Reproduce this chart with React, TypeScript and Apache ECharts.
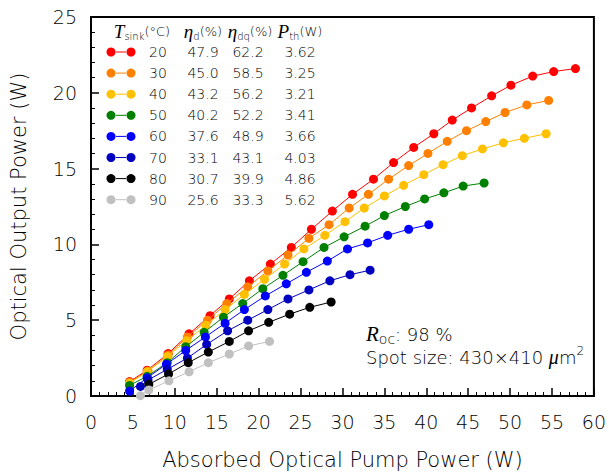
import React, { useEffect, useRef } from "react";
import * as echarts from "echarts";

const temps = ["20", "30", "40", "50", "60", "70", "80", "90"];
const etaD = ["47.9", "45.0", "43.2", "40.2", "37.6", "33.1", "30.7", "25.6"];
const etaDq = ["62.2", "58.5", "56.2", "52.2", "48.9", "43.1", "39.9", "33.3"];
const pth = ["3.62", "3.25", "3.21", "3.41", "3.66", "4.03", "4.86", "5.62"];
const colors = ["#ff0000", "#ff8000", "#ffc000", "#008000", "#0000ff", "#0000c0", "#000000", "#c0c0c0"];

const x20 = [4.6, 6.7, 9.2, 11.7, 14.2, 16.5, 18.9, 21.4, 23.9, 26.3, 28.8, 31.2, 33.7, 36.1, 38.5, 40.9, 43.1, 45.4, 47.8, 50.1, 52.7, 55.2, 57.8];
const y20 = [0.95, 1.7, 2.8, 4.1, 5.3, 6.4, 7.6, 8.7, 9.8, 11.0, 12.2, 13.3, 14.3, 15.4, 16.4, 17.3, 18.2, 19.0, 19.8, 20.5, 21.1, 21.4, 21.6];
const x30 = [4.6, 6.8, 9.2, 11.5, 13.9, 16.2, 18.7, 21.1, 23.5, 26.0, 28.4, 30.8, 33.1, 35.5, 37.9, 40.2, 42.5, 44.8, 47.1, 49.4, 52.0, 54.6];
const y30 = [0.9, 1.65, 2.7, 3.9, 5.0, 6.1, 7.2, 8.25, 9.3, 10.4, 11.3, 12.4, 13.3, 14.3, 15.2, 16.0, 16.8, 17.5, 18.1, 18.7, 19.2, 19.5];
const x40 = [4.6, 6.7, 9.1, 11.4, 13.7, 16.0, 18.3, 20.7, 23.1, 25.4, 27.9, 30.3, 32.6, 35.0, 37.3, 39.7, 42.0, 44.3, 46.7, 49.2, 51.7, 54.3];
const y40 = [0.85, 1.6, 2.6, 3.65, 4.66, 5.7, 6.7, 7.7, 8.7, 9.7, 10.6, 11.5, 12.4, 13.2, 13.9, 14.6, 15.26, 15.85, 16.3, 16.7, 17.0, 17.3];
const x50 = [4.6, 6.7, 9.1, 11.3, 13.5, 15.8, 18.1, 20.5, 22.9, 25.3, 27.8, 30.2, 32.7, 35.0, 37.5, 39.8, 42.1, 44.4, 46.9];
const y50 = [0.7, 1.3, 2.2, 3.25, 4.2, 5.2, 6.1, 7.08, 7.96, 8.86, 9.8, 10.5, 11.2, 11.9, 12.5, 13.0, 13.4, 13.85, 14.05];
const x60 = [4.6, 6.7, 9.0, 11.3, 13.65, 16.0, 18.3, 20.8, 23.3, 25.7, 28.2, 30.6, 33.0, 35.4, 37.9, 40.3];
const y60 = [0.33, 1.2, 2.1, 3.0, 3.9, 4.8, 5.7, 6.6, 7.4, 8.16, 8.9, 9.7, 10.1, 10.6, 11.0, 11.3];
const x70 = [5.9, 6.8, 9.1, 11.5, 13.8, 16.3, 18.7, 21.1, 23.5, 26.0, 28.5, 30.9, 33.3];
const y70 = [0.63, 1.05, 1.76, 2.5, 3.4, 4.3, 5.0, 5.7, 6.4, 7.0, 7.6, 8.0, 8.3];
const x80 = [6.9, 9.25, 11.6, 14.0, 16.5, 18.8, 21.2, 23.7, 26.1, 28.65];
const y80 = [0.77, 1.45, 2.2, 2.9, 3.6, 4.3, 4.86, 5.4, 5.85, 6.2];
const x90 = [5.9, 6.9, 9.3, 11.7, 14.0, 16.5, 18.8, 21.3];
const y90 = [0.02, 0.4, 1.0, 1.6, 2.2, 2.77, 3.3, 3.6];

const xs = [x20, x30, x40, x50, x60, x70, x80, x90];
const ys = [y20, y30, y40, y50, y60, y70, y80, y90];

const FONT = "DejaVu Sans";
const W = 200;
const SERIF = "Liberation Serif";

export default function App() {
  const ref = useRef<HTMLDivElement>(null);
  useEffect(() => {
    if (!ref.current) return;
    const chart = echarts.init(ref.current, null, { renderer: "svg" });

    const series = xs.map((xv, i) => ({
      type: "line",
      name: temps[i],
      data: xv.map((x, k) => [x, ys[i][k]]),
      symbol: "circle",
      symbolSize: 9,
      lineStyle: { color: colors[i], width: 1 },
      itemStyle: { color: colors[i] },
      z: 2 + i,
    }));

    const rich = (fs: number, lh: number, subFs: number, itFs: number) => ({
      n: { fontFamily: FONT, fontWeight: W, fontSize: fs, lineHeight: lh, fill: "#000", color: "#000" },
      it: { fontFamily: SERIF, fontStyle: "italic", fontSize: itFs, lineHeight: lh, fill: "#000", color: "#000" },
      sub: { fontFamily: FONT, fontWeight: W, fontSize: subFs, verticalAlign: "bottom", lineHeight: subFs, fill: "#000", color: "#000" },
      sup: { fontFamily: FONT, fontWeight: W, fontSize: Math.round(fs * 0.65), verticalAlign: "top", lineHeight: Math.round(fs * 0.65), fill: "#000", color: "#000" },
      mu: { fontFamily: SERIF, fontStyle: "italic", fontSize: fs + 2, lineHeight: lh, fill: "#000", color: "#000" },
    });

    const g: any[] = [];
    const rowY0 = 52;
    const rowDy = 21.1;
    const txt = (x: number, y: number, text: string, extra: any = {}) => ({
      type: "text",
      x,
      y,
      style: {
        text,
        fontFamily: FONT,
        fontWeight: W,
        fontSize: 14,
        fill: "#000",
        align: "center",
        verticalAlign: "middle",
        ...extra,
      },
    });
    const hr = rich(13, 21, 10, 19);
    // header
    g.push(txt(142, 31, "{it|T}{sub|sink}{n|(°C)}", { rich: hr }));
    g.push(txt(203, 31, "{it|η}{sub|d}{n|(%)}", { rich: hr }));
    g.push(txt(250, 31, "{it|η}{sub|dq}{n|(%)}", { rich: hr }));
    g.push(txt(300, 31, "{it|P}{sub|th}{n|(W)}", { rich: hr }));

    temps.forEach((t, i) => {
      const y = rowY0 + i * rowDy;
      g.push({ type: "line", shape: { x1: 116, y1: y, x2: 126, y2: y }, style: { stroke: colors[i], lineWidth: 1 } });
      g.push({ type: "circle", shape: { cx: 111, cy: y, r: 4.5 }, style: { fill: colors[i] } });
      g.push({ type: "circle", shape: { cx: 131, cy: y, r: 4.5 }, style: { fill: colors[i] } });
      g.push(txt(158, y, t));
      g.push(txt(203, y, etaD[i]));
      g.push(txt(248, y, etaDq[i]));
      g.push(txt(300, y, pth[i]));
    });

    // annotation
    g.push(txt(366, 334, "{it|R}{sub|oc}{n|: 98 %}", { align: "left", rich: rich(18, 24, 14, 21) }));
    g.push(txt(366, 357, "{n|Spot size: 430×410 }{mu|μ}{n|m}{sup|2}", { align: "left", rich: rich(18, 24, 14, 20) }));

    chart.setOption({
      animation: false,
      grid: { left: 91, right: 14, top: 17, bottom: 80, show: true, borderColor: "#000", borderWidth: 2 },
      xAxis: {
        type: "value",
        min: 0,
        max: 60,
        interval: 5,
        name: "Absorbed Optical Pump Power (W)",
        nameLocation: "middle",
        nameGap: 53,
        nameTextStyle: { fontFamily: FONT, fontWeight: W, fontSize: 21, color: "#000" },
        axisLine: { lineStyle: { color: "#000", width: 2 } },
        axisTick: { inside: true, length: 8, lineStyle: { color: "#000", width: 1.5 } },
        minorTick: { show: true, splitNumber: 5, length: 4, lineStyle: { color: "#000", width: 1 } },
        axisLabel: { fontFamily: FONT, fontWeight: W, fontSize: 19, color: "#000", margin: 16 },
        splitLine: { show: false },
        minorSplitLine: { show: false },
      },
      yAxis: {
        type: "value",
        min: 0,
        max: 25,
        interval: 5,
        name: "Optical Output Power (W)",
        nameLocation: "middle",
        nameGap: 62,
        nameTextStyle: { fontFamily: FONT, fontWeight: W, fontSize: 21, color: "#000" },
        axisLine: { lineStyle: { color: "#000", width: 2 } },
        axisTick: { inside: true, length: 8, lineStyle: { color: "#000", width: 1.5 } },
        minorTick: { show: true, splitNumber: 5, length: 4, lineStyle: { color: "#000", width: 1 } },
        axisLabel: { fontFamily: FONT, fontWeight: W, fontSize: 19, color: "#000", margin: 14 },
        splitLine: { show: false },
        minorSplitLine: { show: false },
      },
      series,
      graphic: g,
    });
    return () => chart.dispose();
  }, []);
  return <div ref={ref} style={{ width: 609, height: 476, position: "absolute", left: 0, top: 0 }} />;
}
